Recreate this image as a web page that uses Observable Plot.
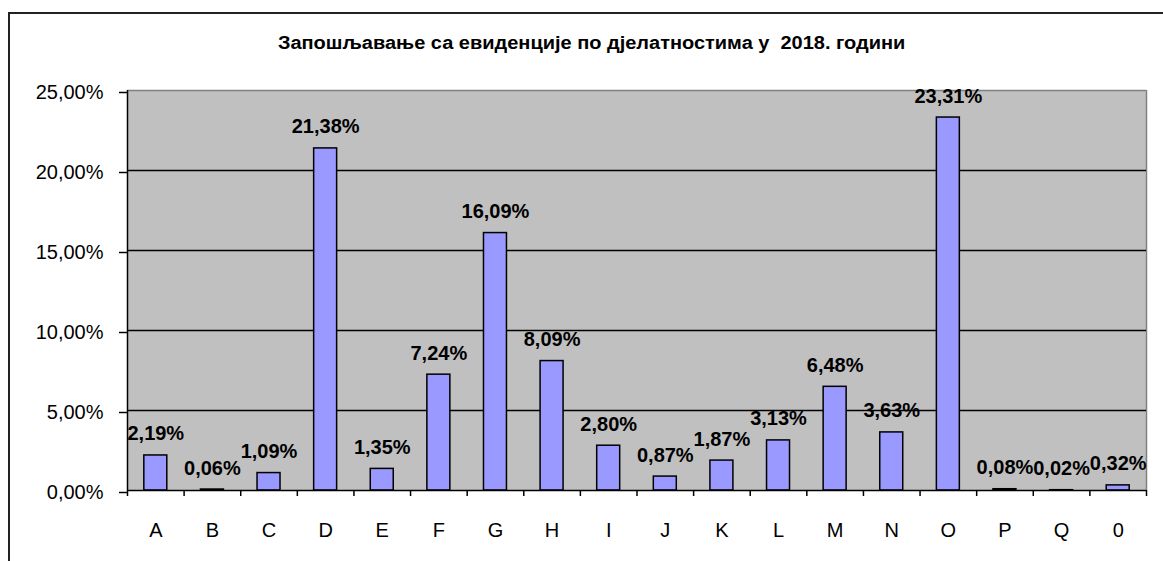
<!DOCTYPE html>
<html>
<head>
<meta charset="utf-8">
<script src="https://cdn.jsdelivr.net/npm/d3@7"></script>
<script src="https://cdn.jsdelivr.net/npm/@observablehq/plot@0.6"></script>
<style>
  html, body { margin: 0; padding: 0; background: #fff; }
  #wrap { position: relative; width: 1163px; height: 561px; overflow: hidden; font-family: "Liberation Sans", Arial, sans-serif; }
  #box { position: absolute; left: 8px; top: 12px; width: 1200px; height: 600px; border-top: 2px solid #222; border-left: 2px solid #222; }
  #title { position: absolute; left: 0; width: 1183px; top: 33px; text-align: center; font-size: 18px; line-height: 20px; font-weight: bold; color: #000; }
  #title span { display: inline-block; transform: scaleX(1.11); white-space: pre; }
  #chart { position: absolute; left: 0; top: 60px; }
</style>
</head>
<body>
<div id="wrap">
  <div id="box"></div>
  <div id="title"><span>Запошљавање са евиденције по дјелатностима у  2018. години</span></div>
  <div id="chart"></div>
</div>
<script>
const categories = ["A","B","C","D","E","F","G","H","I","J","K","L","M","N","O","P","Q","0"];
const values = [2.19, 0.06, 1.09, 21.38, 1.35, 7.24, 16.09, 8.09, 2.80, 0.87, 1.87, 3.13, 6.48, 3.63, 23.31, 0.08, 0.02, 0.32];
const yTicks = [0, 5, 10, 15, 20, 25];

const fmt = (v, d) => v.toFixed(d).replace(".", ",") + "%";
const data = categories.map((c, i) => ({cat: c, i, value: values[i]}));
const n = categories.length;

const plot = Plot.plot({
  width: 1163,
  height: 501,
  marginTop: 30,
  marginBottom: 71,
  marginLeft: 127,
  marginRight: 17,
  style: {fontFamily: "'Liberation Sans', Arial, sans-serif", fontSize: "20px", color: "#000", background: "transparent"},
  x: {domain: [0, n], label: null},
  y: {domain: [0, 25], label: null},
  marks: [
    Plot.frame({fill: "#C0C0C0", stroke: null}),
    Plot.ruleY([25], {stroke: "#808080", strokeWidth: 1.5}),
    Plot.ruleX([n], {stroke: "#808080", strokeWidth: 1.5}),
    Plot.ruleY(yTicks.filter(t => t > 0 && t < 25), {stroke: "#000", strokeWidth: 1.5}),
    Plot.rectY(data, {x1: d => d.i + 0.297, x2: d => d.i + 0.703, y: "value", fill: "#9999FF", stroke: "#000", strokeWidth: 1.5}),
    Plot.ruleX([0], {stroke: "#000", strokeWidth: 1.5}),
    Plot.ruleY([0], {stroke: "#000", strokeWidth: 1.5}),
    Plot.axisY({ticks: yTicks, tickFormat: d => fmt(d, 2), tickSize: 8, tickPadding: 16, strokeWidth: 1.5, dy: 2, fontSize: 20, label: null}),
    Plot.axisX({ticks: d3.range(n + 1), tickFormat: () => "", tickSize: 6, strokeWidth: 1.5, label: null}),
    Plot.axisX({ticks: d3.range(n).map(i => i + 0.5), tickFormat: d => categories[Math.floor(d)], tickSize: 0, tickPadding: 32, fontSize: 20, label: null}),
    Plot.text(data, {x: d => d.i + 0.5, y: "value", text: d => fmt(d.value, 2), dy: -15, lineAnchor: "bottom", fontWeight: "bold", fontSize: 20, fill: "#000"})
  ]
});
document.getElementById("chart").appendChild(plot);
</script>
</body>
</html>
